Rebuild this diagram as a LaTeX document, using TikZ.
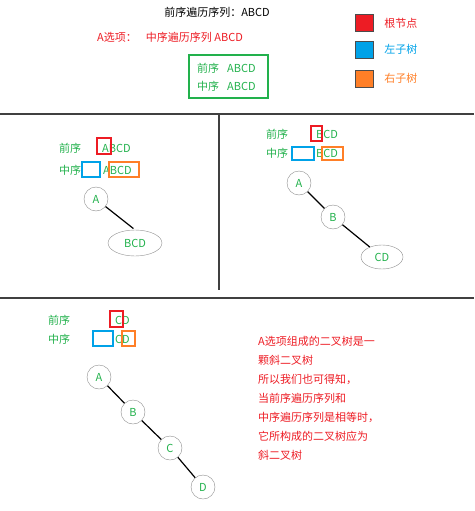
\documentclass[tikz,border=0pt]{standalone}
\usepackage{fontspec}
\setmainfont{Noto Sans CJK SC}
\usetikzlibrary{positioning,shapes.geometric}
\definecolor{ptred}{RGB}{237,28,36}
\definecolor{ptblue}{RGB}{0,162,232}
\definecolor{ptorange}{RGB}{255,127,39}
\definecolor{ptgreen}{RGB}{34,177,76}
\definecolor{ptgray}{RGB}{140,140,140}
\tikzstyle{every node}=[inner sep=0pt, font=\fontsize{11}{13}\selectfont]
\tikzstyle{seq}=[text=ptgreen, anchor=west]
\tikzstyle{tnode}=[circle, draw=ptgray, minimum size=24pt, text=ptgreen]
\tikzstyle{tell}=[ellipse, draw=ptgray, text=ptgreen]
\tikzstyle{markbox}=[draw, line width=1.2pt]
\tikzstyle{legend}=[draw=black!70, minimum width=18pt, minimum height=17pt]
\tikzstyle{sep}=[draw=black!75, line width=1.2pt]
\tikzstyle{branch}=[line width=1.2pt]

\begin{document}
\begin{tikzpicture}[x=1pt,y=-1pt]
\useasboundingbox (0,0) rectangle (474,511);
% header
\node (title) at (217,12) {前序遍历序列：ABCD};
\node[text=ptred, anchor=west] (opta) at (97,37) {A选项：\hspace{9pt}中序遍历序列 ABCD};
\node[draw=ptgreen, line width=1.2pt, minimum width=79pt, minimum height=43pt] (both) at (228.5,76.5) {};
\node[seq] (bpre) at (197,68) {前序\hspace{8pt}ABCD};
\node[seq] (bin) at (197,86) {中序\hspace{8pt}ABCD};
% legend
\node[legend, fill=ptred]    (lgroot)  at (364,23) {};
\node[legend, fill=ptblue]   (lgleft)  at (364,49.5) {};
\node[legend, fill=ptorange] (lgright) at (364,78.5) {};
\node[text=ptred, right=11pt of lgroot]     {根节点};
\node[text=ptblue, right=11pt of lgleft]    {左子树};
\node[text=ptorange, right=11pt of lgright] {右子树};
% frames
\coordinate (h1l) at (0,114);   \coordinate (h1r) at (474,114);
\coordinate (vt) at (219,114);  \coordinate (vb) at (219,290);
\coordinate (h2l) at (0,298);   \coordinate (h2r) at (474,298);
\draw[sep] (h1l) -- (h1r);
\draw[sep] (vt) -- (vb);
\draw[sep] (h2l) -- (h2r);

% step 1: root A
\node[seq] (pre1) at (59,148) {前序};
\node[seq] (pre1s) at (102,148) {ABCD};
\node[seq] (in1) at (59,170) {中序};
\node[seq] (in1s) at (103,170) {ABCD};
\node[markbox, draw=ptred, minimum width=14pt, minimum height=16pt] (root1) at (104,146) {};
\node[markbox, draw=ptblue, minimum width=18pt, minimum height=15pt] (left1) at (91,169.5) {};
\node[markbox, draw=ptorange, minimum width=30pt, minimum height=15pt] (right1) at (124,169.5) {};
\node[tnode] (a1) at (96,199) {A};
\node[tell, minimum width=54pt, minimum height=26pt] (bcd1) at (135,243) {BCD};
\draw[branch, shorten >=2pt] (a1) -- (bcd1.north);

% step 2: root B
\node[seq] (pre2) at (266,134) {前序};
\node[seq] (pre2s) at (316,134) {BCD};
\node[seq] (in2) at (266,153) {中序};
\node[seq] (in2s) at (316,153) {BCD};
\node[markbox, draw=ptred, minimum width=11pt, minimum height=15pt] (root2) at (316.5,133.5) {};
\node[markbox, draw=ptblue, minimum width=22pt, minimum height=13pt] (left2) at (303,153.5) {};
\node[markbox, draw=ptorange, minimum width=21pt, minimum height=13pt] (right2) at (332.5,153.5) {};
\node[tnode] (a2) at (299,183) {A};
\node[tnode] (b2) at (333,217) {B};
\node[tell, minimum width=42pt, minimum height=24pt] (cd2) at (382,257) {CD};
\draw[branch] (a2) -- (b2);
\draw[branch] (b2) -- (cd2);

% step 3: root C
\node[seq] (pre3) at (48,320) {前序};
\node[seq] (pre3s) at (115,320) {CD};
\node[seq] (in3) at (48,339) {中序};
\node[seq] (in3s) at (115,339) {CD};
\node[markbox, draw=ptred, minimum width=13pt, minimum height=16pt] (root3) at (116.5,319) {};
\node[markbox, draw=ptblue, minimum width=20pt, minimum height=15pt] (left3) at (103,338.5) {};
\node[markbox, draw=ptorange, minimum width=13pt, minimum height=15pt] (right3) at (128.5,338.5) {};
\node[tnode] (a3) at (99,377) {A};
\node[tnode] (b3) at (133,412) {B};
\node[tnode] (c3) at (170,448) {C};
\node[tnode] (d3) at (203,487) {D};
\draw[branch] (a3) -- (b3);
\draw[branch] (b3) -- (c3);
\draw[branch] (c3) -- (d3);

% conclusion
\node[text=ptred, anchor=north west, align=left, font=\fontsize{11}{19}\selectfont] (note) at (258,336) {A选项组成的二叉树是一\\颗斜二叉树\\所以我们也可得知，\\当前序遍历序列和\\中序遍历序列是相等时，\\它所构成的二叉树应为\\斜二叉树};
\end{tikzpicture}
\end{document}
